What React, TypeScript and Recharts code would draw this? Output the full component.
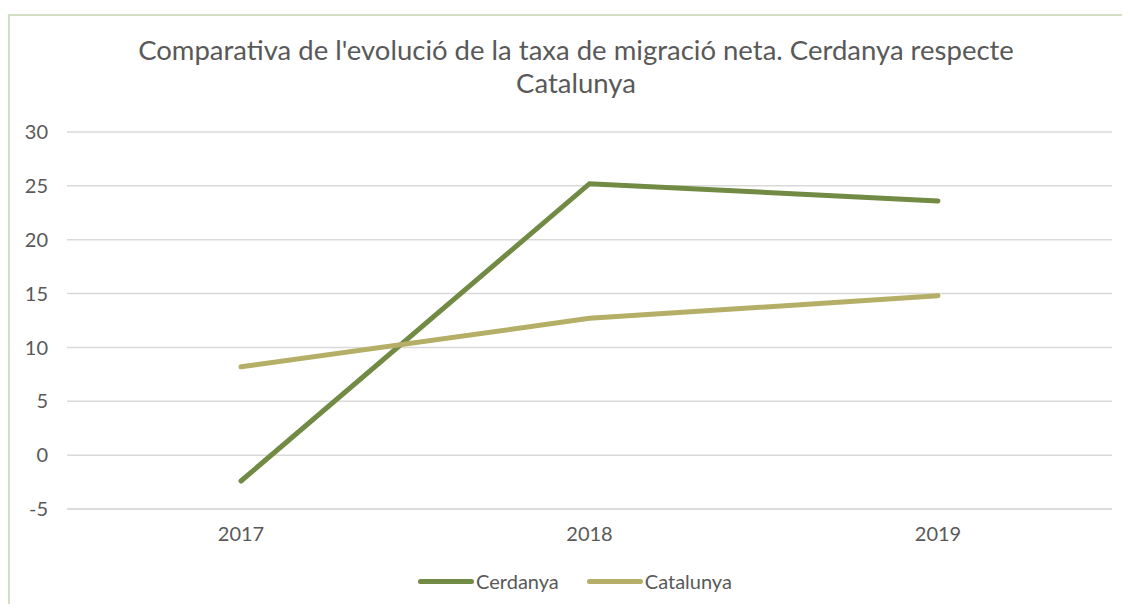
import { LineChart, Line, XAxis, YAxis, CartesianGrid, Legend } from 'recharts';

const years = ['2017', '2018', '2019'];
const cerdanya = [-2.4, 25.2, 23.6];
const catalunya = [8.2, 12.7, 14.8];
const yTicks = [-5, 0, 5, 10, 15, 20, 25, 30];

const data = years.map((year, i) => ({
  year,
  cerdanya: cerdanya[i],
  catalunya: catalunya[i],
}));

const series = [
  { key: 'cerdanya', name: 'Cerdanya', color: '#718a44' },
  { key: 'catalunya', name: 'Catalunya', color: '#b4ae66' },
];

const font = 'Lato, "Open Sans", sans-serif';
const textColor = '#595959';

function LegendContent() {
  return (
    <div style={{ display: 'flex', justifyContent: 'center', gap: 28, paddingLeft: 10, fontFamily: font, fontSize: 20, color: textColor }}>
      {series.map((s) => (
        <div key={s.key} style={{ display: 'flex', alignItems: 'center' }}>
          <span style={{ display: 'inline-block', width: 56, height: 5, borderRadius: 3, background: s.color, marginRight: 2 }} />
          <span>{s.name}</span>
        </div>
      ))}
    </div>
  );
}

export default function App() {
  return (
    <div style={{ position: 'relative', marginTop: 6, width: 1120, height: 588, borderLeft: '2px solid #d3dfc3', borderTop: '2px solid #d3dfc3', background: '#fff' }}>
      <div style={{ position: 'absolute', left: 0, top: 17, width: 1132, textAlign: 'center', fontFamily: font, fontSize: 27.5, lineHeight: '33px', color: textColor }}>
        Comparativa de l'evolució de la taxa de migració neta. Cerdanya respecte
        <br />
        Catalunya
      </div>
      <LineChart width={1120} height={588} data={data} margin={{ top: 116, right: 18, bottom: 41, left: 0 }}>
        <CartesianGrid vertical={false} stroke="#d9d9d9" strokeWidth={1.5} />
        <XAxis
          dataKey="year"
          padding={{ left: 174, right: 174 }}
          axisLine={{ stroke: '#d9d9d9', strokeWidth: 1.5 }}
          tickLine={false}
          tickSize={0}
          tickMargin={18}
          tick={{ fill: textColor, fontFamily: font, fontSize: 20 }}
        />
        <YAxis
          width={57}
          domain={[-5, 30]}
          ticks={yTicks}
          axisLine={false}
          tickLine={false}
          tickSize={0}
          tickMargin={19}
          tick={{ fill: textColor, fontFamily: font, fontSize: 20 }}
        />
        <Legend verticalAlign="bottom" wrapperStyle={{ left: 0, width: 1120, bottom: 11 }} content={<LegendContent />} />
        {series.map((s) => (
          <Line
            key={s.key}
            type="linear"
            dataKey={s.key}
            name={s.name}
            stroke={s.color}
            strokeWidth={5}
            strokeLinecap="round"
            dot={false}
            activeDot={false}
            isAnimationActive={false}
          />
        ))}
      </LineChart>
    </div>
  );
}
